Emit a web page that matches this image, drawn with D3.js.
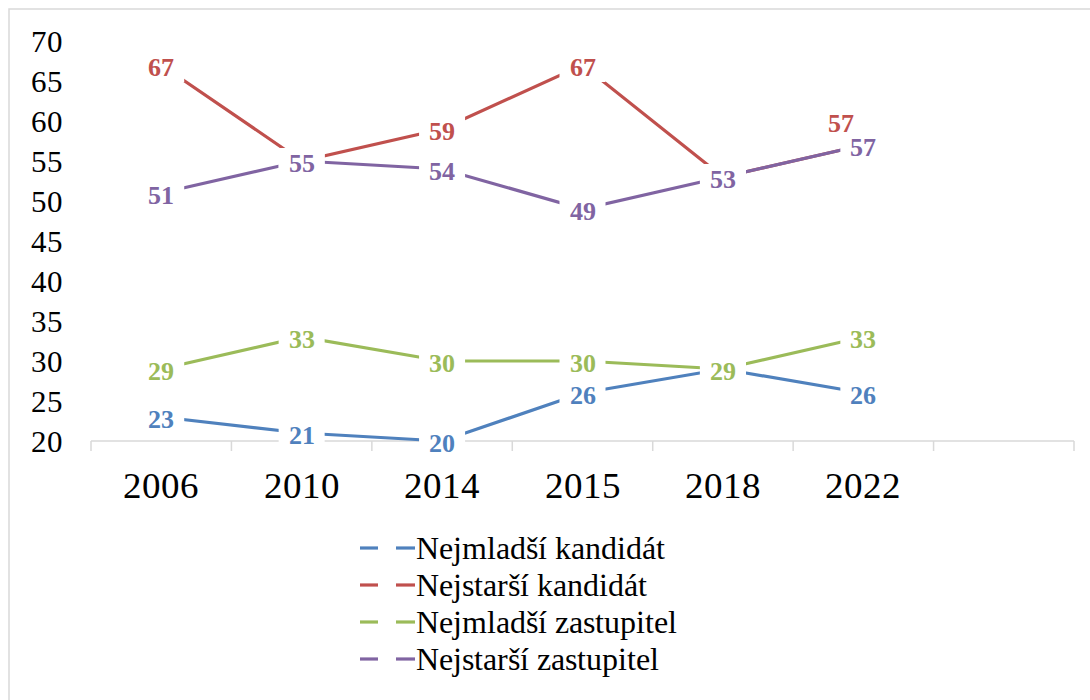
<!DOCTYPE html>
<html>
<head>
<meta charset="UTF-8">
<script src="https://d3js.org/d3.v7.min.js"></script>
<style>
    @font-face {
        font-family: "RefSerif";
        src: local("Liberation Serif"), local("LiberationSerif"), local("LiberationSerif-Regular");
        font-weight: normal;
    }
    @font-face {
        font-family: "RefSerif";
        src: local("Liberation Serif Bold"), local("LiberationSerif-Bold");
        font-weight: bold;
    }
    body { margin: 0; background: #fff; }
    svg { display: block; }
    text { font-family: "RefSerif", "Liberation Serif", serif; }
</style>
</head>
<body>
<svg id="chart" width="1090" height="700"></svg>
<script>
    // data
    var years = ["2006", "2010", "2014", "2015", "2018", "2022"];
    var yTicks = [20, 25, 30, 35, 40, 45, 50, 55, 60, 65, 70];

    var nejmladsiKandidat = [23, 21, 20, 26, 29, 26];
    var nejstarsiKandidat = [67, 55, 59, 67, 53, 57];
    var nejmladsiZastupitel = [29, 33, 30, 30, 29, 33];
    var nejstarsiZastupitel = [51, 55, 54, 49, 53, 57];

    var seriesNames = ["Nejmladší kandidát", "Nejstarší kandidát", "Nejmladší zastupitel", "Nejstarší zastupitel"];
    var seriesColors = ["#4F81BD", "#C0504D", "#9BBB59", "#8064A2"];

    var series = [nejmladsiKandidat, nejstarsiKandidat, nejmladsiZastupitel, nejstarsiZastupitel].map(function (vals, i) {
        return { name: seriesNames[i], color: seriesColors[i], values: vals };
    });

    var svg = d3.select("#chart");

    // chart frame (right and bottom edges fall outside the picture)
    svg.append("rect")
        .attr("x", 9).attr("y", 9)
        .attr("width", 1110).attr("height", 720)
        .attr("fill", "none")
        .attr("stroke", "#d9d9d9")
        .attr("stroke-width", 1.5);

    // one empty category at the end, as in the original
    var x = d3.scaleBand()
        .domain(years.concat([""]))
        .range([91, 1074]);

    var y = d3.scaleLinear()
        .domain([20, 70])
        .range([441, 41]);

    function cx(i) { return x(years[i]) + x.bandwidth() / 2; }

    // y labels (no axis line)
    svg.selectAll(".yl")
        .data(yTicks)
        .enter().append("text")
        .attr("x", 63)
        .attr("y", function (d) { return y(d) + 11; })
        .attr("font-size", 31)
        .attr("text-anchor", "end")
        .text(function (d) { return d; });

    // x axis: ticks between categories
    svg.append("line")
        .attr("x1", 91).attr("x2", 1074)
        .attr("y1", y(20)).attr("y2", y(20))
        .attr("stroke", "#d9d9d9").attr("stroke-width", 1.5);
    svg.selectAll(".tk")
        .data(d3.range(x.domain().length + 1))
        .enter().append("line")
        .attr("x1", function (i) { return x.range()[0] + i * x.step(); })
        .attr("x2", function (i) { return x.range()[0] + i * x.step(); })
        .attr("y1", y(20)).attr("y2", y(20) + 10)
        .attr("stroke", "#d9d9d9").attr("stroke-width", 1.5);
    svg.selectAll(".xl")
        .data(years)
        .enter().append("text")
        .attr("x", function (d) { return x(d) + x.bandwidth() / 2; })
        .attr("y", y(20) + 57)
        .attr("font-size", 37)
        .attr("text-anchor", "middle")
        .text(function (d) { return d; });

    // lines
    var line = d3.line()
        .x(function (d, i) { return cx(i); })
        .y(function (d) { return y(d); });

    svg.selectAll(".series")
        .data(series)
        .enter().append("path")
        .attr("d", function (s) { return line(s.values); })
        .attr("fill", "none")
        .attr("stroke", function (s) { return s.color; })
        .attr("stroke-width", 3.2);

    // labels with white boxes (they cut gaps in the lines)
    // the last red label was moved aside in the original
    function nudge(si, i) {
        if (si === 1 && i === 5) return [-22, -24];
        return [0, 0];
    }

    series.forEach(function (s, si) {
        s.values.forEach(function (v, i) {
            var n = nudge(si, i);
            var px = cx(i) + n[0], py = y(v) + 2 + n[1];
            svg.append("rect")
                .attr("x", px - 23).attr("y", py - 15)
                .attr("width", 46).attr("height", 30)
                .attr("fill", "#fff");
            svg.append("text")
                .attr("x", px)
                .attr("y", py + 9)
                .attr("font-size", 26)
                .attr("font-weight", "bold")
                .attr("text-anchor", "middle")
                .attr("fill", s.color)
                .text(v);
        });
    });

    // legend
    series.forEach(function (s, i) {
        var ly = 548 + i * 37;
        svg.append("line")
            .attr("x1", 360).attr("x2", 378).attr("y1", ly).attr("y2", ly)
            .attr("stroke", s.color).attr("stroke-width", 3.2);
        svg.append("line")
            .attr("x1", 396).attr("x2", 415).attr("y1", ly).attr("y2", ly)
            .attr("stroke", s.color).attr("stroke-width", 3.2);
        svg.append("text")
            .attr("x", 416)
            .attr("y", ly + 11)
            .attr("font-size", 32)
            .text(s.name);
    });
</script>
</body>
</html>
